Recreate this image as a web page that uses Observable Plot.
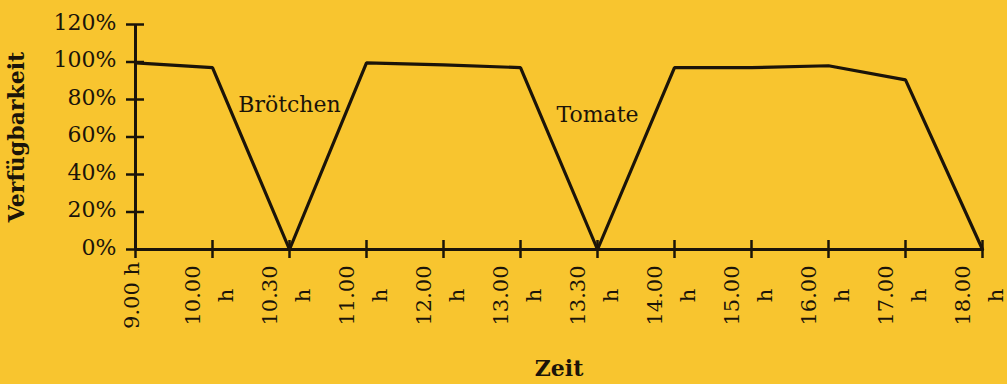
<!DOCTYPE html>
<html>
<head>
<meta charset="utf-8">
<script src="https://cdn.jsdelivr.net/npm/d3@7"></script>
<script src="https://cdn.jsdelivr.net/npm/@observablehq/plot@0.6"></script>
<style>
  html, body { margin: 0; padding: 0; background: #F8C52F; overflow: hidden; }
  #chart svg { display: block; }
</style>
</head>
<body>
<div id="chart"></div>
<script>
// ---- data ----
const hours = ["9.00", "10.00", "10.30", "11.00", "12.00", "13.00", "13.30", "14.00", "15.00", "16.00", "17.00", "18.00"];
const tickLabels = ["9.00 h", "10.00\nh", "10.30\nh", "11.00\nh", "12.00\nh", "13.00\nh", "13.30\nh", "14.00\nh", "15.00\nh", "16.00\nh", "17.00\nh", "18.00\nh"];
const availability = [99.5, 97, 0, 99.5, 98.5, 97, 0, 97, 97, 98, 90.5, 0];
const yTicks = [0, 20, 40, 60, 80, 100, 120];
const noteTexts = ["Brötchen", "Tomate"];
const noteHours = ["10.30", "13.30"];
const noteValues = [77, 72];

const ink = "#1b1409";
const labelOf = new Map(hours.map((h, i) => [h, tickLabels[i]]));
const series = hours.map((h, i) => ({hour: h, value: availability[i]}));
const notes = noteTexts.map((t, i) => ({text: t, hour: noteHours[i], value: noteValues[i]}));

const chart = Plot.plot({
  width: 1007,
  height: 384,
  marginTop: 24,
  marginBottom: 135,
  marginLeft: 135,
  marginRight: 25,
  style: {fontFamily: "DejaVu Serif", fontSize: "21px", color: ink, background: "transparent"},
  x: {type: "point", domain: hours, padding: 0},
  y: {domain: [0, 120]},
  marks: [
    // y axis: crossing ticks
    Plot.axisY({ticks: yTicks, tickSize: 18, dx: 9, fill: "none", strokeWidth: 2.5, label: null}),
    // y axis tick labels
    Plot.axisY({ticks: yTicks, tickSize: 0, tickPadding: 19, dy: -2, fontSize: 22, tickFormat: d => d + "%",
      label: "Verfügbarkeit", labelAnchor: "center", labelOffset: 127, labelArrow: "none"}),
    // x axis: crossing ticks
    Plot.axisX({tickSize: 18, dy: -9, fill: "none", strokeWidth: 2.5, label: null}),
    // x axis rotated two-line labels
    Plot.axisX({tickSize: 0, tickPadding: 46, dx: -7, tickRotate: -90, textAnchor: "middle", lineAnchor: "middle",
      lineHeight: 1.57, tickFormat: d => labelOf.get(d),
      label: "Zeit", labelAnchor: "center", labelOffset: 126, labelArrow: "none"}),
    Plot.ruleY([0], {stroke: ink, strokeWidth: 3}),
    Plot.ruleX([hours[0]], {stroke: ink, strokeWidth: 3}),
    Plot.line(series, {x: "hour", y: "value", stroke: ink, strokeWidth: 3.2, strokeLinejoin: "miter"}),
    Plot.text(notes, {x: "hour", y: "value", text: "text", fontSize: 22, fill: ink})
  ]
});

d3.select(chart).selectAll('[aria-label="y-axis label"], [aria-label="x-axis label"]')
  .attr("font-weight", "bold").attr("font-size", 22);

document.getElementById("chart").appendChild(chart);
</script>
</body>
</html>
